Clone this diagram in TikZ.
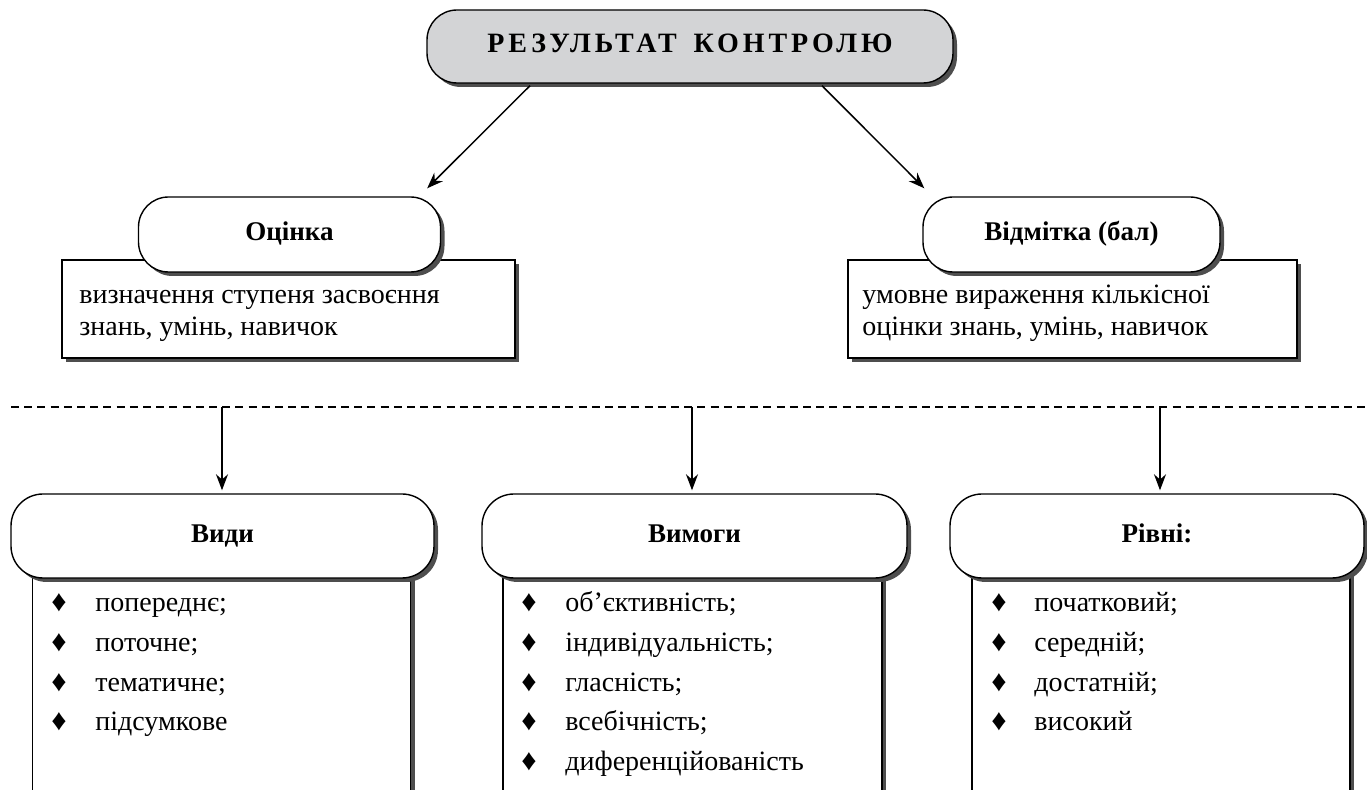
\documentclass[tikz,border=0pt]{standalone}
\usepackage{fontspec}
\setmainfont{Liberation Serif}
\usetikzlibrary{arrows.meta,shadows}
\definecolor{titlegray}{RGB}{211,212,214}
\definecolor{shadowgray}{RGB}{78,78,78}
\begin{document}
\begin{tikzpicture}[x=0.5pt,y=-0.5pt,
  boxshadow/.style={drop shadow={shadow xshift=2pt,shadow yshift=-2pt,fill=shadowgray,opacity=1}},
  pill/.style={draw,line width=0.7pt,fill=white,rounded corners=15pt,inner sep=0pt,boxshadow,
    text height=9.5pt,text depth=3pt,font=\bfseries\fontsize{13.5pt}{15pt}\selectfont},
  bigpill/.style={pill,rounded corners=16pt},
  titlebox/.style={pill,fill=titlegray,font=\bfseries\fontsize{14pt}{16pt}\selectfont},
  plainbox/.style={draw,line width=0.7pt,fill=white,inner sep=0pt,boxshadow},
  bodytext/.style={inner sep=0pt,anchor=base west,font=\fontsize{14pt}{17pt}\selectfont},
  arr/.style={line width=0.75pt,-{Stealth[length=8pt,width=6pt]}},
  sep/.style={line width=0.6pt,dash pattern=on 4pt off 2.6pt}
]
\useasboundingbox (0,0) rectangle (1367,790);

% top
\node[titlebox,minimum width=263pt,minimum height=36.5pt] (title) at (690,46.5)
  {\addfontfeatures{LetterSpace=14}РЕЗУЛЬТАТ\hspace{3pt} КОНТРОЛЮ};

% definition rectangles
\node[plainbox,minimum width=226.5pt,minimum height=49pt] (ocdef) at (288.5,309) {};
\node[plainbox,minimum width=224.5pt,minimum height=49pt] (videf) at (1072.5,309) {};

\node[pill,minimum width=151pt,minimum height=37.5pt] (ocinka) at (289.5,234.5) {Оцінка};
\node[pill,minimum width=148.5pt,minimum height=37.5pt] (vidm) at (1071.5,234.5) {Відмітка (бал)};

\node[bodytext] (oct1) at (79,304) {визначення ступеня засвоєння};
\node[bodytext] (oct2) at (79,336) {знань, умінь, навичок};
\node[bodytext] (vit1) at (862,304) {умовне вираження кількісної};
\node[bodytext] (vit2) at (862,336) {оцінки знань, умінь, навичок};

\draw[arr] ([xshift=-80pt,yshift=-1pt]title.south) -- ([xshift=-7pt,yshift=4pt]ocinka.north east);
\draw[arr] ([xshift=66pt,yshift=-1pt]title.south) -- ([xshift=1pt,yshift=4pt]vidm.north west);

% dashed separator
\coordinate (sl) at (11,407);
\coordinate (sr) at (1367,407);
\draw[sep] (sl) -- (sr);
\coordinate (d1) at (222,407);
\coordinate (d2) at (692,407);
\coordinate (d3) at (1160,407);

% list rectangles
\node[plainbox,anchor=north,minimum width=189pt,minimum height=200pt] (vylist) at (221.5,560) {};
\node[plainbox,anchor=north,minimum width=189.5pt,minimum height=200pt] (vmlist) at (692.5,560) {};
\node[plainbox,anchor=north,minimum width=189pt,minimum height=200pt] (rvlist) at (1161,560) {};

% headers
\node[bigpill,minimum width=211.5pt,minimum height=42pt] (vydy) at (222.5,536) {Види};
\node[bigpill,minimum width=212.5pt,minimum height=42pt] (vymohy) at (694.5,536) {Вимоги};
\node[bigpill,minimum width=207pt,minimum height=42pt] (rivni) at (1157,536) {Рівні:};

\draw[arr,shorten >=1.5pt] (d1) -- (d1 |- vydy.north);
\draw[arr,shorten >=1.5pt] (d2) -- (d2 |- vymohy.north);
\draw[arr,shorten >=1.5pt] (d3) -- (d3 |- rivni.north);

% list items
\foreach \t [count=\i] in {попереднє;,поточне;,тематичне;,підсумкове}
  \node[bodytext] (vy\i) at (51,{612+39.6*(\i-1)}) {\makebox[22pt][l]{\fontsize{15pt}{17pt}\selectfont♦}\t};
\foreach \t [count=\i] in {об’єктивність;,індивідуальність;,гласність;,всебічність;,диференційованість}
  \node[bodytext] (vm\i) at (521,{612+39.6*(\i-1)}) {\makebox[22pt][l]{\fontsize{15pt}{17pt}\selectfont♦}\t};
\foreach \t [count=\i] in {початковий;,середній;,достатній;,високий}
  \node[bodytext] (rv\i) at (991,{612+39.6*(\i-1)}) {\makebox[21.5pt][l]{\fontsize{15pt}{17pt}\selectfont♦}\t};
\end{tikzpicture}
\end{document}
